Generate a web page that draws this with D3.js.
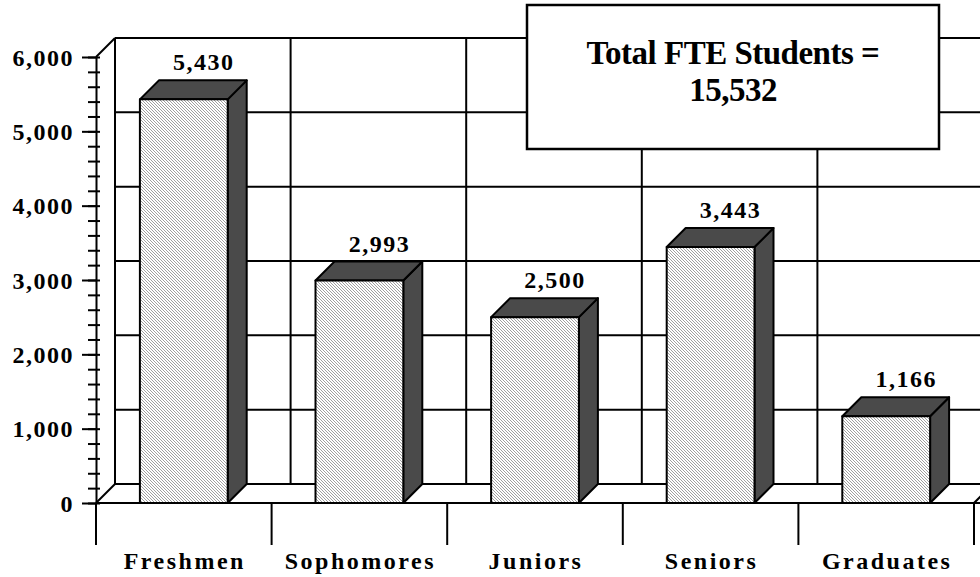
<!DOCTYPE html>
<html>
<head>
<meta charset="utf-8">
<script src="https://cdn.jsdelivr.net/npm/d3@7"></script>
<style>
  body { margin: 0; background: #fff; }
  text { font-family: "Liberation Serif", "Times New Roman", serif; font-weight: bold; fill: #000; }
</style>
</head>
<body>
<div id="chart"></div>
<script>
const categories = ['Freshmen', 'Sophomores', 'Juniors', 'Seniors', 'Graduates'];
const students = [5430, 2993, 2500, 3443, 1166];
const yTicks = [0, 1000, 2000, 3000, 4000, 5000, 6000];
const totalLines = ['Total FTE Students =', '15,532'];

const width = 980;
const height = 577;
const depthX = 19;
const depthY = -19;
const rightEdge = 985;

const svg = d3.select('#chart').append('svg')
  .attr('width', width)
  .attr('height', height);

// fine diagonal dot hatch for the bar fronts
const defs = svg.append('defs');
const hatch = defs.append('pattern')
  .attr('id', 'hatch')
  .attr('patternUnits', 'userSpaceOnUse')
  .attr('width', 3)
  .attr('height', 3);
hatch.append('rect').attr('width', 3).attr('height', 3).attr('fill', '#fff');
hatch.selectAll('rect.dot')
  .data([0, 1, 2])
  .enter()
  .append('rect')
  .attr('x', d => d)
  .attr('y', d => d)
  .attr('width', 1)
  .attr('height', 1)
  .attr('fill', '#a0a0a0');

const y = d3.scaleLinear().domain([0, 6000]).range([503, 57]);

const x = d3.scaleBand()
  .domain(categories)
  .range([96, 974])
  .paddingInner(0.5)
  .paddingOuter(0.25);

const step = x.step();
const bw = x.bandwidth();
const boundaries = categories.map(c => x(c) - step * 0.25);
boundaries.push(x(categories[categories.length - 1]) + bw + step * 0.25);

const x0 = boundaries[0];

// back wall
const wall = svg.append('g').attr('stroke', '#000').attr('stroke-width', 2).attr('fill', 'none');

wall.selectAll('line.h')
  .data(yTicks)
  .enter()
  .append('line')
  .attr('x1', x0 + depthX)
  .attr('x2', rightEdge)
  .attr('y1', d => y(d) + depthY)
  .attr('y2', d => y(d) + depthY);

wall.selectAll('line.v')
  .data(boundaries)
  .enter()
  .append('line')
  .attr('x1', d => d + depthX)
  .attr('x2', d => d + depthX)
  .attr('y1', y(6000) + depthY)
  .attr('y2', y(0) + depthY);

// floor and left wall edges
wall.append('line')
  .attr('x1', x0).attr('y1', y(0))
  .attr('x2', x0 + depthX).attr('y2', y(0) + depthY);
wall.append('line')
  .attr('x1', boundaries[5]).attr('y1', y(0))
  .attr('x2', boundaries[5] + depthX).attr('y2', y(0) + depthY);
wall.append('line')
  .attr('x1', x0).attr('y1', y(6000))
  .attr('x2', x0 + depthX).attr('y2', y(6000) + depthY);

// bars
const bars = svg.selectAll('g.bar')
  .data(categories.map((c, i) => ({ c, v: students[i] })))
  .enter()
  .append('g')
  .attr('class', 'bar')
  .attr('stroke', '#000')
  .attr('stroke-width', 2)
  .attr('stroke-linejoin', 'round');

bars.append('polygon')
  .attr('fill', '#4a4a4a')
  .attr('points', d => {
    const l = x(d.c) + bw;
    return [[l, y(d.v)], [l + depthX, y(d.v) + depthY], [l + depthX, y(0) + depthY], [l, y(0)]].join(' ');
  });

bars.append('polygon')
  .attr('fill', '#4a4a4a')
  .attr('points', d => {
    const l = x(d.c);
    return [[l, y(d.v)], [l + depthX, y(d.v) + depthY], [l + bw + depthX, y(d.v) + depthY], [l + bw, y(d.v)]].join(' ');
  });

bars.append('rect')
  .attr('fill', 'url(#hatch)')
  .attr('x', d => x(d.c))
  .attr('y', d => y(d.v))
  .attr('width', bw)
  .attr('height', d => y(0) - y(d.v));

bars.append('text')
  .attr('stroke', 'none')
  .attr('text-anchor', 'middle')
  .attr('x', d => x(d.c) + bw / 2 + depthX + 1)
  .attr('y', d => y(d.v) + depthY - 10)
  .style('font-size', '24px')
  .style('letter-spacing', '1.5px')
  .text(d => d3.format(',')(d.v));

// front axis line
svg.append('line')
  .attr('stroke', '#000').attr('stroke-width', 2)
  .attr('x1', x0).attr('y1', y(0))
  .attr('x2', rightEdge).attr('y2', y(0));

// y axis
const yAxis = d3.axisLeft(y)
  .tickValues(yTicks)
  .tickFormat(d3.format(','))
  .tickSizeInner(14)
  .tickSizeOuter(0)
  .tickPadding(8);

const gy = svg.append('g')
  .attr('transform', `translate(${x0},0)`)
  .call(yAxis);
gy.select('.domain').attr('stroke-width', 2);
gy.selectAll('.tick line').attr('stroke-width', 2);
gy.selectAll('.tick text')
  .style('font-size', '24px')
  .style('letter-spacing', '1.5px')
  .attr('dy', '0.34em');

const minorAxis = d3.axisLeft(y)
  .tickValues(d3.range(0, 6001, 200))
  .tickFormat('')
  .tickSizeInner(12)
  .tickSizeOuter(0);

const gm = svg.append('g')
  .attr('transform', `translate(${x0 + 4},0)`)
  .call(minorAxis);
gm.select('.domain').remove();
gm.selectAll('.tick line').attr('stroke-width', 2);

// x category ticks and labels
svg.append('g')
  .selectAll('line')
  .data(boundaries)
  .enter()
  .append('line')
  .attr('stroke', '#000').attr('stroke-width', 2)
  .attr('x1', d => d).attr('x2', d => d)
  .attr('y1', y(0)).attr('y2', y(0) + 42);

svg.append('g')
  .selectAll('text')
  .data(categories)
  .enter()
  .append('text')
  .attr('text-anchor', 'middle')
  .attr('x', d => x(d) + bw / 2 + 1)
  .attr('y', 569)
  .style('font-size', '24px')
  .style('letter-spacing', '2.5px')
  .text(d => d);

// total box
const box = svg.append('g');
box.append('rect')
  .attr('x', 527).attr('y', 5)
  .attr('width', 412).attr('height', 144)
  .attr('fill', '#fff')
  .attr('stroke', '#000')
  .attr('stroke-width', 2.5);

box.selectAll('text')
  .data(totalLines)
  .enter()
  .append('text')
  .attr('text-anchor', 'middle')
  .attr('x', 733)
  .attr('y', (d, i) => 64 + i * 37)
  .style('font-size', '33px')
  .style('letter-spacing', '-0.5px')
  .text(d => d);
</script>
</body>
</html>
